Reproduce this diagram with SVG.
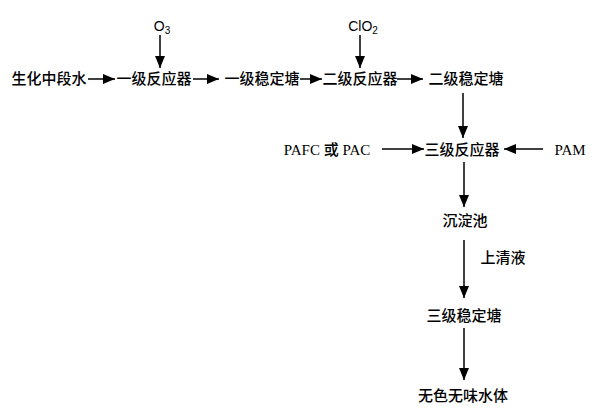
<svg xmlns="http://www.w3.org/2000/svg" width="600" height="416" viewBox="0 0 600 416">
<style>
.cn{font-family:"Noto Sans CJK SC","Noto Sans CJK JP",sans-serif;font-size:15px;fill:#000;text-anchor:middle;font-weight:500}
.lt{font-family:"Liberation Serif",serif;font-size:15px;fill:#000;text-anchor:middle}
.ls{font-family:"Liberation Sans",sans-serif;font-size:14px;fill:#000;text-anchor:middle}
.e{stroke:#000;stroke-width:1.5;fill:none;marker-end:url(#ah)}
</style>
<defs>
<marker id="ah" markerUnits="userSpaceOnUse" markerWidth="14" markerHeight="12" refX="12" refY="5" orient="auto">
<path d="M0,0 L12,5 L0,10 Z" fill="#000"/>
</marker>
</defs>
<rect width="600" height="416" fill="#fff"/>
<g id="connectors">
<line class="e" x1="88" y1="79" x2="115" y2="79"/>
<line class="e" x1="193" y1="79" x2="219" y2="79"/>
<line class="e" x1="300" y1="79" x2="322" y2="79"/>
<line class="e" x1="397" y1="79" x2="423" y2="79"/>
<line class="e" x1="160" y1="35" x2="160" y2="68"/>
<line class="e" x1="360" y1="35" x2="360" y2="68"/>
<line class="e" x1="463" y1="93" x2="463" y2="138"/>
<line class="e" x1="382" y1="149" x2="424" y2="149"/>
<line class="e" x1="543" y1="149" x2="504" y2="149"/>
<line class="e" x1="464" y1="162" x2="464" y2="207"/>
<line class="e" x1="464" y1="240" x2="464" y2="298"/>
<line class="e" x1="464" y1="328" x2="464" y2="380"/>
</g>
<g id="n1"><text class="cn" x="49" y="84">生化中段水</text></g>
<g id="n2"><text class="cn" x="154" y="84">一级反应器</text></g>
<g id="n3"><text class="cn" x="262" y="84">一级稳定塘</text></g>
<g id="n4"><text class="cn" x="360" y="84">二级反应器</text></g>
<g id="n5"><text class="cn" x="466" y="84">二级稳定塘</text></g>
<g id="o3"><text class="ls" x="162" y="31">O<tspan font-size="10" dy="3">3</tspan></text></g>
<g id="clo2"><text class="ls" x="363" y="31">ClO<tspan font-size="10" dy="3">2</tspan></text></g>
<g id="n6"><text class="cn" x="462" y="155">三级反应器</text></g>
<g id="pafc"><text class="lt" x="327" y="155">PAFC <tspan font-family="Noto Sans CJK SC,sans-serif" font-weight="500">或</tspan> PAC</text></g>
<g id="pam"><text class="lt" x="570" y="155">PAM</text></g>
<g id="n7"><text class="cn" x="465" y="226">沉淀池</text></g>
<g id="lbl"><text class="cn" x="503" y="263">上清液</text></g>
<g id="n8"><text class="cn" x="464" y="321">三级稳定塘</text></g>
<g id="n9"><text class="cn" x="463" y="401">无色无味水体</text></g>
</svg>
